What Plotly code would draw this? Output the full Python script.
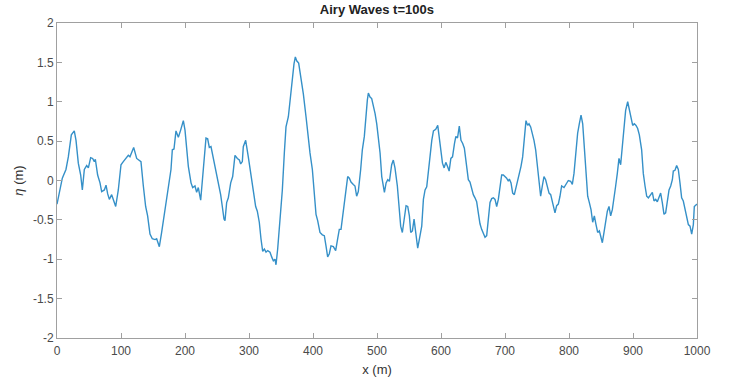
import plotly.graph_objects as go

x_m = [0, 4.7, 8.3, 14, 17.7, 22.4, 27, 29.7, 33.3, 37, 39.6, 42.7, 46.4, 49, 52.6, 55.7, 58.3, 59.9,
       63.5, 67.2, 69.8, 74, 76.6, 79.2, 81.8, 85.4, 89, 91.7, 95.8, 100, 103.6, 107.8, 111.4, 114,
       116.7, 119.8,
       124.5, 128.1, 131.2, 134.9, 138.5, 141.6, 145.3, 148.9, 153.1, 155.7, 157.3, 159.9, 163.5,
       168.7, 174, 178.1, 180.2, 182.8, 185.9, 189.6, 193.2, 197.4, 200, 202.6, 205.2, 209.4, 212,
       215.6, 218.2, 220.8, 224.5, 228.6, 232.8, 235.4, 238, 240.6, 244.3, 248.4, 252.1, 255.7,
       258.3,
       260.9, 262.5, 265.1, 267.7, 271.4, 274.5, 278.1, 281.8, 284.9, 287, 289.6, 291.1, 294.8,
       298.9, 302.6, 306.8, 310.4, 313, 316.1, 318.7, 321.4, 324, 326.6, 329.2, 332.8, 335.4, 338,
       340.6, 342.2, 344.8, 348.4, 352.1, 355.2, 357.8, 361.5, 364.1, 366.7, 368.2, 370.3, 372.4,
       374.5, 377.6, 381.3, 384.9, 389.1, 392.7, 395.3,
       399, 402.1, 404.7, 407.3, 410.9, 414.6, 417.7, 420.3, 422.9, 425.5, 428.1, 431.8, 435.4,
       438.5, 441.1, 443.8, 447.4, 451, 454.2, 456.8, 459.4, 463, 465.6, 468.2, 470.8, 474.5,
       477.1, 480.2, 482.3, 484.9, 486.5, 489.1, 491.7, 494.3, 497, 499.6, 502.2, 504.8, 507.4,
       510, 511.6, 514.2, 516.8, 519.4,
       522.9, 525.5, 528.1, 531.8, 534.9, 537, 539.6, 542.2, 545.4, 548, 550.6, 552.7, 555.3,
       557.9, 560.5, 563.6, 566.3, 569.9, 572.5, 575.1, 577.7, 580.3, 583, 585.6, 588.2, 591.8,
       594.9, 597, 599.6, 602.3, 604.9, 607.5, 610.1, 612.7, 615.4, 618, 621.1, 623.2, 625.8,
       628.6, 631.2, 633.9, 636.5, 639.1, 642.7, 645.3, 647.9, 650.5, 653.1, 655.7, 658.3, 660.9,
       663.5, 666.1, 668.8, 671.4, 674, 676.6, 679.2, 681.8, 684.4, 687, 689.6, 692.2, 694.8,
       697.4, 700, 702.6, 705.2, 706.8, 709.4, 712, 714.6, 717.2, 719.8, 722.4, 725, 727.6, 729.7,
       731.3, 732.8, 735.4, 737.5, 740.1, 742.7, 745.3, 747.9, 750.5, 753.1, 755.7, 758.3, 760.9,
       763.5, 766.1, 768.8, 771.4, 774, 776.6, 778.1, 780.7, 783.3, 785.9, 788.5,
       792.2, 795.3, 798.9, 802.6, 805.2, 807.8, 810.9, 813.5, 816.1, 818.8, 821.4, 824, 826.6,
       829.2, 831.8, 834.4, 837, 839.6, 842.2, 844.8, 847.4, 849.5, 852.1, 854.7, 857.3, 859.9,
       862.5, 865.1, 867.7, 870.3, 872.9, 875.5, 878.1, 880.7, 883.3, 885.9, 888.5, 891.7, 894.3,
       896.9, 899.5, 902.1, 904.7, 907.3, 909.9,
       913.5, 916.1, 918.8, 921.4, 924, 926.6, 930.2, 932.8, 935.4, 938, 940.6, 943.2, 945.8,
       948.4, 951, 953.6, 956.3, 958.9, 961.5, 963, 965.6, 968.2, 970.8, 973.4, 976, 978.6, 981.3,
       983.9, 986.5, 989.1, 991.7, 994.3, 995.8, 1000]

eta_m = [-0.30, -0.12, 0.03, 0.14, 0.30, 0.58, 0.63, 0.51, 0.22, 0.07, -0.12, 0.14, 0.19, 0.16,
         0.29, 0.28, 0.24, 0.27, 0.07, -0.03, -0.14, -0.12, -0.06, -0.17, -0.24, -0.18, -0.26,
         -0.33, -0.12, 0.20, 0.24, 0.28, 0.32, 0.30, 0.35, 0.42,
         0.28, 0.26, 0.24, -0.07, -0.33, -0.45, -0.68, -0.74, -0.75, -0.74, -0.79, -0.84, -0.66,
         -0.37, -0.12, 0.14, 0.39, 0.40, 0.63, 0.55, 0.64, 0.76, 0.64, 0.43, 0.18, -0.03, -0.09,
         -0.07, -0.15, -0.09, -0.25, 0.14, 0.54, 0.53, 0.42, 0.43, 0.28, 0.09, -0.03, -0.18,
         -0.33,
         -0.49, -0.51, -0.28, -0.22, -0.03, 0.05, 0.32, 0.28, 0.26, 0.21, 0.24, 0.43, 0.51,
         0.30, 0.09, -0.12, -0.33, -0.39, -0.53, -0.74, -0.90, -0.87, -0.91, -0.89, -0.91, -0.97,
         -1.02, -1.00, -1.07, -0.87, -0.49, -0.12, 0.35, 0.68, 0.81, 1.02, 1.27, 1.31, 1.48, 1.57,
         1.52, 1.49, 1.31, 1.10, 0.81, 0.51, 0.35,
         0.14, -0.16, -0.43, -0.51, -0.66, -0.69, -0.70, -0.83, -0.97, -0.93, -0.83, -0.84, -0.89,
         -0.74, -0.62, -0.62, -0.37, -0.12, 0.05, 0.03, -0.02, -0.05, -0.07, -0.20, -0.14, 0.14,
         0.39, 0.56, 0.81, 1.02, 1.11, 1.06, 1.04, 0.95, 0.85, 0.72, 0.56, 0.35, 0.05,
         -0.07, -0.15, -0.03, 0.01, -0.01,
         0.20, 0.26, 0.16, -0.07, -0.37, -0.58, -0.66, -0.49, -0.32, -0.33, -0.45, -0.66, -0.64,
         -0.49, -0.68, -0.86, -0.74, -0.58, -0.24, -0.12, -0.08, 0.14, 0.35, 0.51, 0.63, 0.65,
         0.70, 0.56, 0.35, 0.22, 0.16, 0.23, 0.18, 0.12, 0.28, 0.30, 0.47, 0.56, 0.54,
         0.69, 0.51, 0.47, 0.41, 0.22, 0.01, -0.02, -0.12, -0.18, -0.22, -0.27, -0.41, -0.55,
         -0.62, -0.68, -0.72, -0.70, -0.45, -0.28, -0.23, -0.22, -0.24, -0.33, -0.24, -0.07, 0.07,
         0.07, 0.05, 0.03, -0.01, 0.02, -0.03, -0.16, -0.18, -0.09, -0.01, 0.05, 0.18, 0.30, 0.47,
         0.66, 0.76, 0.70, 0.72, 0.68, 0.60, 0.51, 0.39, 0.18, -0.07, -0.20, -0.07, 0.05,
         0.01, -0.09, -0.16, -0.18, -0.26, -0.35, -0.41, -0.32, -0.30, -0.20, -0.07,
         -0.09, -0.05, 0.00, -0.01, -0.05, 0.09, 0.39, 0.60, 0.72, 0.83, 0.72, 0.39, 0.05,
         -0.20, -0.28, -0.37, -0.53, -0.45, -0.56, -0.66, -0.64, -0.72, -0.79, -0.66, -0.49, -0.39,
         -0.33, -0.45, -0.37, -0.24, -0.07, 0.09, 0.28, 0.20, 0.43, 0.64, 0.89, 1.00, 0.89,
         0.81, 0.70, 0.72, 0.70, 0.66, 0.58,
         0.39, 0.09, -0.07, -0.20, -0.22, -0.19, -0.15, -0.26, -0.24, -0.27, -0.21, -0.16, -0.28,
         -0.43, -0.41, -0.24, -0.12, -0.07, 0.01, 0.12, 0.13, 0.19, 0.14, -0.03, -0.22, -0.26, -0.37,
         -0.49, -0.56, -0.58, -0.68, -0.56, -0.33, -0.30]

x_ticks = [0, 100, 200, 300, 400, 500, 600, 700, 800, 900, 1000]
y_ticks = [-2, -1.5, -1, -0.5, 0, 0.5, 1, 1.5, 2]
y_tick_text = ["-2", "-1.5", "-1", "-0.5", "0", "0.5", "1", "1.5", "2"]

fig = go.Figure()
fig.add_trace(go.Scatter(x=x_m, y=eta_m, mode="lines",
                         line=dict(color="#3590c8", width=1.4), showlegend=False))

axis_common = dict(showgrid=False, zeroline=False, showline=True, linecolor="#a0a0a0",
                   linewidth=1, mirror="ticks", ticks="inside", ticklen=5,
                   tickcolor="#a0a0a0", tickfont=dict(size=12, color="#4a4a4a"))

fig.update_layout(
    width=729, height=387,
    margin=dict(l=57, r=32, t=23, b=45),
    paper_bgcolor="white", plot_bgcolor="white",
    font=dict(family="Liberation Sans, Arial, sans-serif", color="#333333"),
    title=dict(text="<b>Airy Waves t=100s</b>", x=0.517, xanchor="center", y=0.975,
               yanchor="middle", font=dict(size=13, color="#222222")),
    xaxis=dict(range=[0, 1000], tickvals=x_ticks, ticklabelstandoff=2,
               title=dict(text="x (m)", font=dict(size=13, color="#333333"), standoff=7),
               **axis_common),
    yaxis=dict(range=[-2, 2], tickvals=y_ticks, ticktext=y_tick_text,
               title=dict(text="<i>η</i> (m)", font=dict(size=13, color="#333333"), standoff=6),
               **axis_common),
)

fig.write_html("out.html")
